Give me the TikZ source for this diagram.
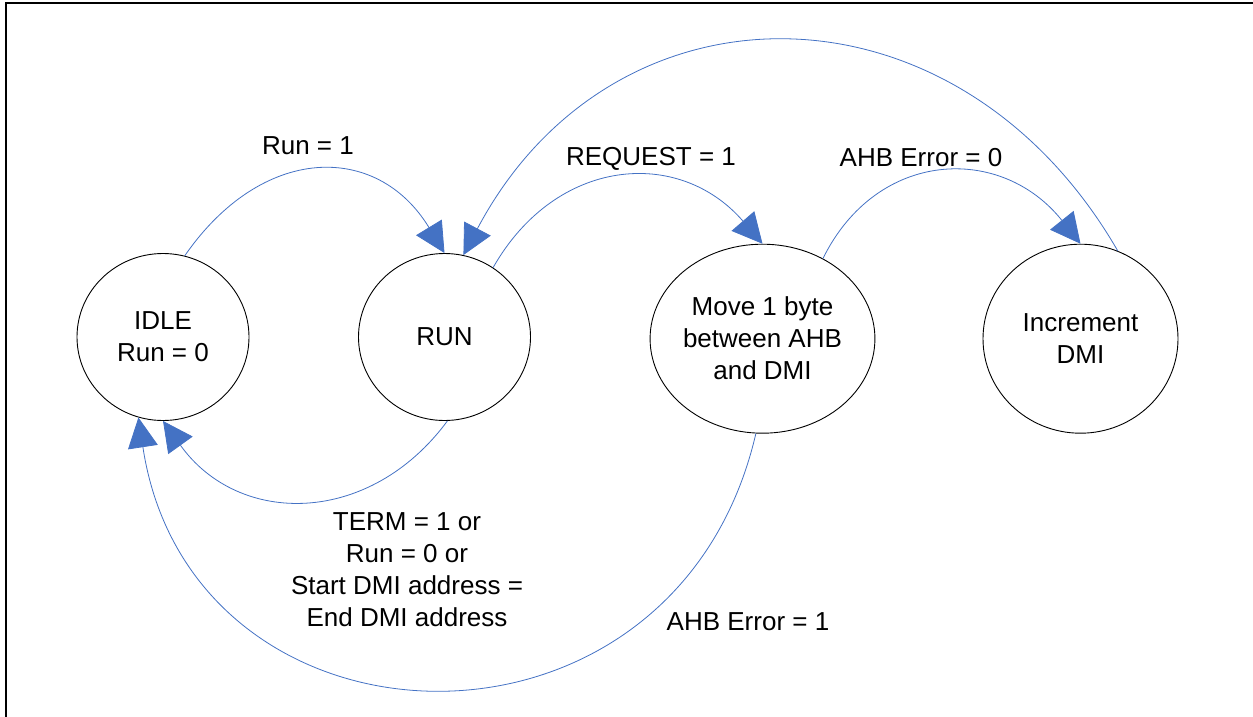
\documentclass[tikz,border=0pt]{standalone}
\usepackage{fontspec}
\setmainfont{Liberation Sans}
\usetikzlibrary{arrows.meta,shapes.geometric}
\definecolor{conblue}{HTML}{4472C4}
\begin{document}
\begin{tikzpicture}[x=1pt,y=-1pt,
  state/.style={ellipse,draw=black,line width=0.9pt,inner sep=0pt,align=center,font=\fontsize{26}{32}\selectfont},
  smallstate/.style={state,minimum width=172pt,minimum height=167pt},
  bigstate/.style={state,minimum width=195pt,minimum height=189pt},
  conn/.style={draw=conblue,line width=0.8pt,-{Triangle[length=30pt,width=30pt,fill=conblue]}},
  lbl/.style={font=\fontsize{26}{32}\selectfont,inner sep=0pt,align=center}]
\useasboundingbox (0,0) rectangle (1253,717);
\draw[line width=2pt] (6,717) -- (6,3) -- (1253,3);
\node[smallstate] (idle) at (163,337) {IDLE\\Run = 0};
\node[smallstate] (run) at (444.5,337) {RUN};
\node[bigstate] (move) at (762.5,338.7) {Move 1 byte\\between AHB\\and DMI};
\node[bigstate] (inc) at (1080.5,338.7) {Increment\\DMI};
\node[lbl,anchor=base] (l1) at (308,154) {Run = 1};
\node[lbl,anchor=base] (l2) at (651,165.5) {REQUEST = 1};
\node[lbl,anchor=base] (l3) at (921,166) {AHB Error = 0};
\node[lbl] (l4) at (407,570) {TERM = 1 or\\Run = 0 or\\Start DMI address =\\End DMI address};
\node[lbl,anchor=base] (l5) at (748,630) {AHB Error = 1};
\draw[conn] (idle.75) .. controls (262,144) and (377,142) .. (run.90);
\draw[conn] (inc.67) .. controls (956.5,-28) and (613.5,-28.4) .. (run.77);
\draw[conn] (run.55) .. controls (556,157) and (679,147) .. (move.90);
\draw[conn] (move.53) .. controls (877,149) and (1001,144) .. (inc.90);
\draw[conn] (run.-88) .. controls (370,526) and (239,527) .. (idle.270);
\draw[conn] (move.266) .. controls (675,783) and (191.5,767) .. (idle.253);
\end{tikzpicture}
\end{document}
